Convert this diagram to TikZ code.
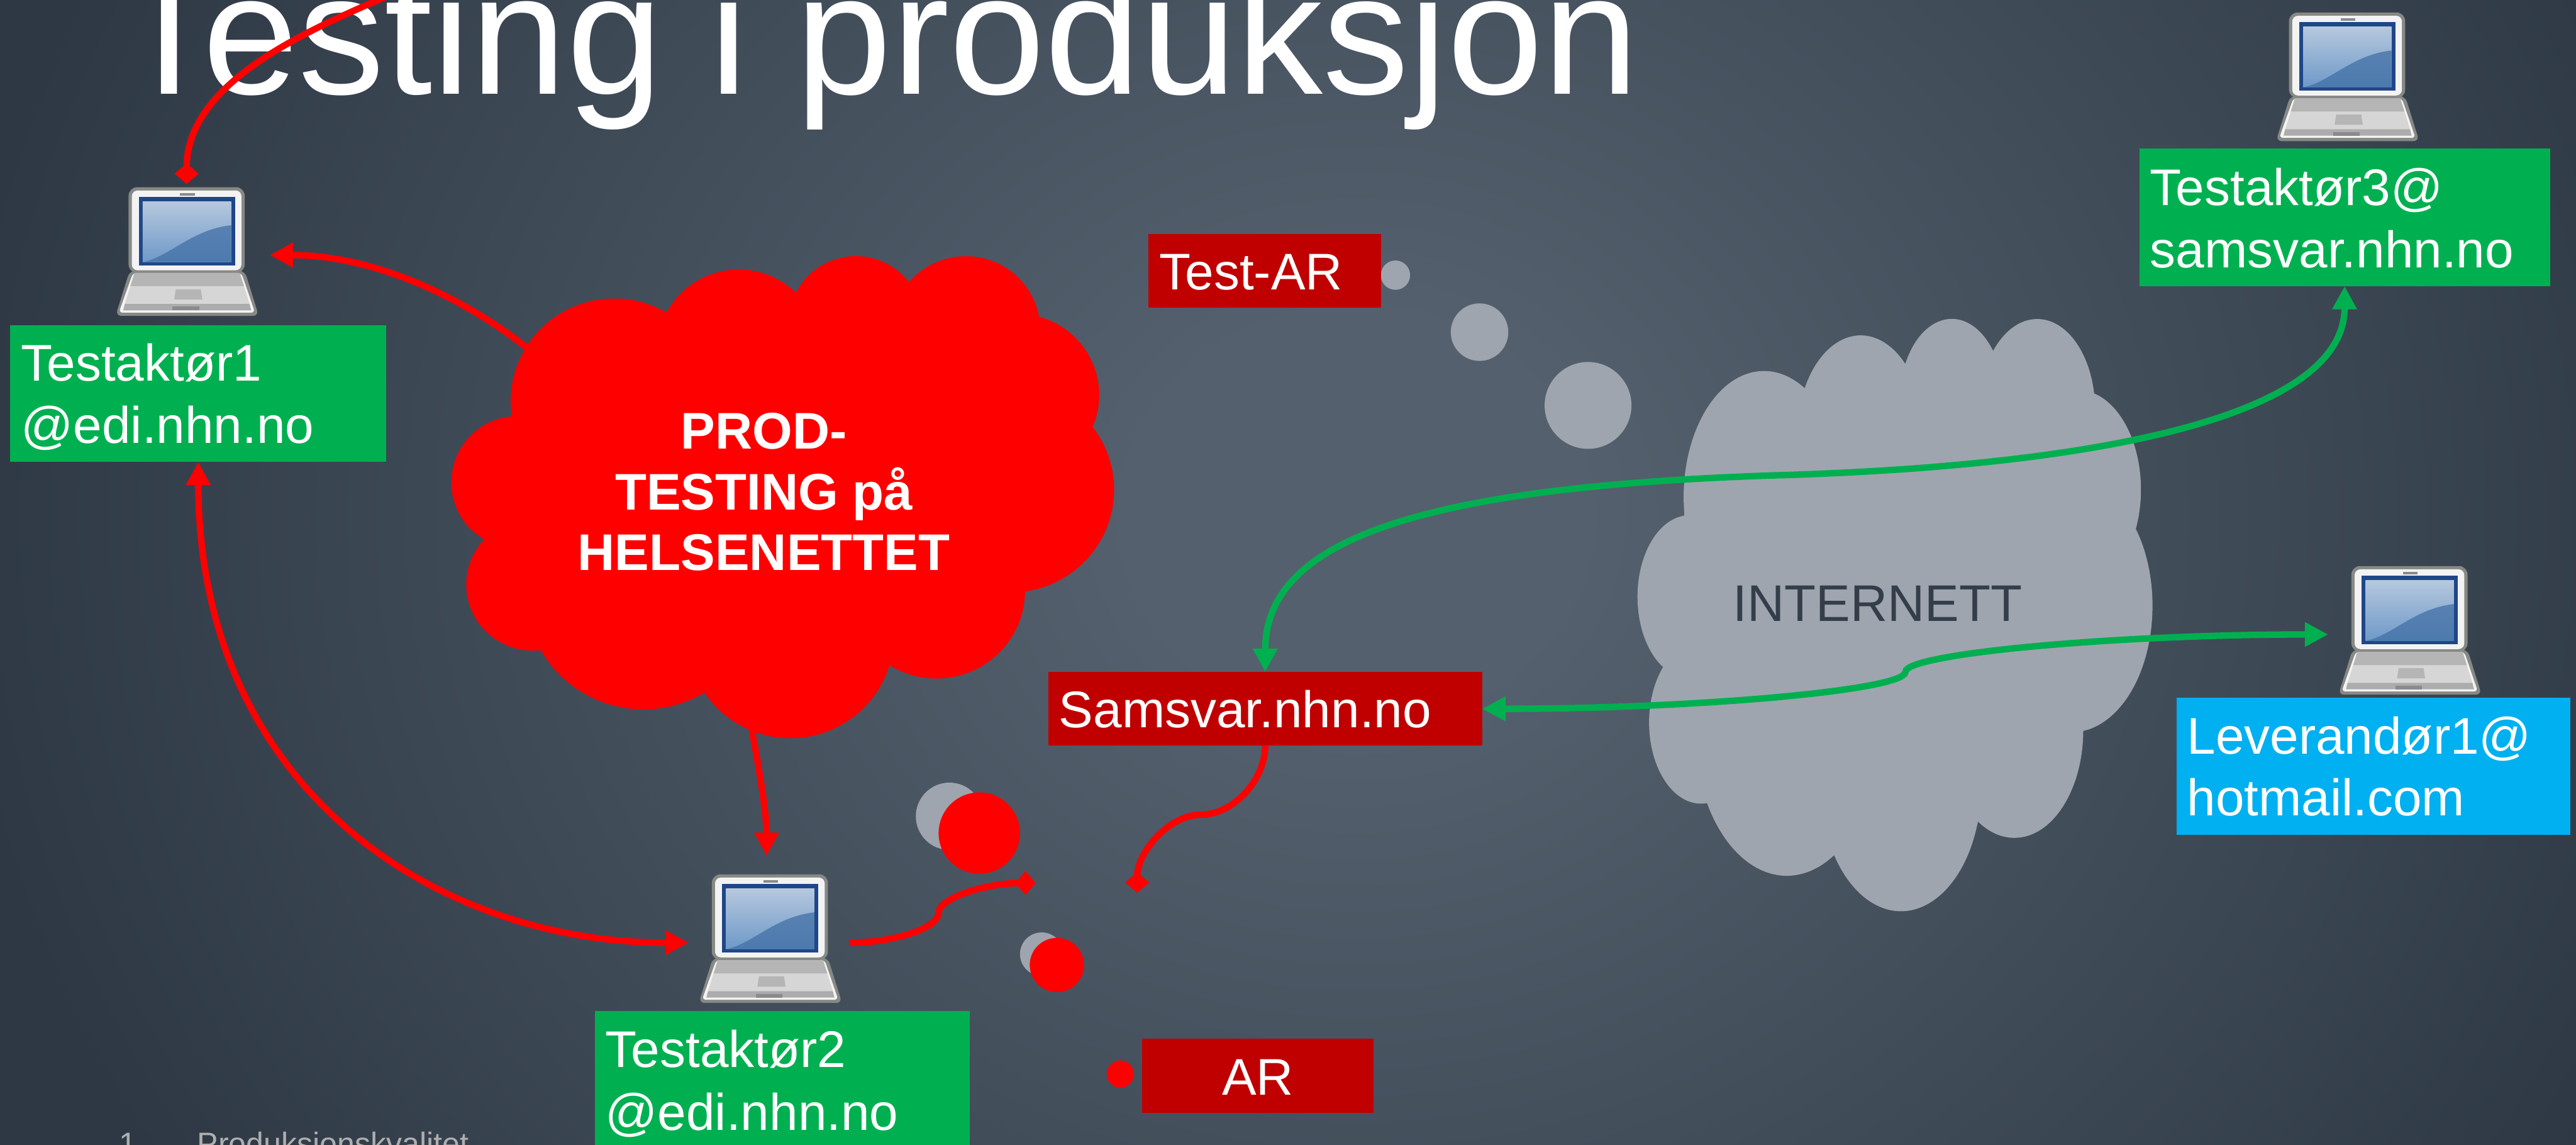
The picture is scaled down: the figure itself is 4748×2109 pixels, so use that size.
\documentclass[tikz,border=0pt]{standalone}
\usepackage{fontspec}
\setmainfont{Liberation Sans}
\usetikzlibrary{arrows.meta,calc,fit}

% slide palette
\definecolor{bgin}{RGB}{84,96,109}
\definecolor{bgout}{RGB}{46,56,69}
\definecolor{pptred}{RGB}{255,0,0}
\definecolor{darkred}{RGB}{192,0,0}
\definecolor{pptgreen}{RGB}{0,176,80}
\definecolor{pptblue}{RGB}{0,176,240}
\definecolor{cloudgrey}{RGB}{158,165,174}
\definecolor{nettext}{RGB}{52,62,75}
\definecolor{footgrey}{RGB}{175,175,175}
% laptop icon palette
\definecolor{lapedge}{RGB}{135,137,133}
\definecolor{lapface}{RGB}{243,243,243}
\definecolor{scrframe}{RGB}{31,71,135}
\definecolor{scrtop}{RGB}{182,200,222}
\definecolor{scrbot}{RGB}{110,153,200}
\definecolor{scrwave}{RGB}{66,112,166}
\definecolor{keyband}{RGB}{181,181,181}
\definecolor{palm}{RGB}{214,214,214}
\definecolor{strip}{RGB}{172,172,172}
\definecolor{stripbar}{RGB}{138,138,138}

\pgfdeclareradialshading{slidebg}{\pgfpoint{0bp}{0bp}}{color(0bp)=(bgin); color(4bp)=(bgin); color(25bp)=(bgout); color(50bp)=(bgout)}

\newcommand\LblFont{\fontsize{27}{32}\selectfont}
\newcommand\TtlFont{\fontsize{90.3}{100}\selectfont}
\newcommand\FtFont{\fontsize{16.5}{20}\selectfont}

\tikzset{
  % cloud outline on a 432 x 432 grid
  pptcloud/.pic={
    \path[pic actions] (39,143.7)
      arc[start angle=-187.745, delta angle=128.104, x radius=67.53, y radius=91.90]
      arc[start angle=-152.018, delta angle=106.561, x radius=53.33, y radius=72.67]
      arc[start angle=-153.493, delta angle=116.162, x radius=43.65, y radius=59.45]
      arc[start angle=-139.711, delta angle=129.500, x radius=48.57, y radius=65.95]
      arc[start angle=-74.768, delta angle=97.975, x radius=53.33, y radius=72.73]
      arc[start angle=-37.527, delta angle=119.390, x radius=67.75, y radius=92.20]
      arc[start angle=0.460, delta angle=121.518, x radius=57.85, y radius=78.67]
      arc[start angle=16.843, delta angle=129.384, x radius=67.52, y radius=92.15]
      arc[start angle=58.985, delta angle=91.220, x radius=77.20, y radius=105.43]
      arc[start angle=-276.694, delta angle=139.800, x radius=43.60, y radius=59.18]
      arc[start angle=-239.643, delta angle=143.755, x radius=43.45, y radius=59.45]
      -- cycle;
  },
  % laptop icon, 264 x 240, origin at its top left corner
  laptop/.pic={
    \fill[lapedge, rounded corners=4.5pt] (24,2) rectangle (238,160);
    \fill[lapface, rounded corners=3pt] (30,8) rectangle (232,155);
    \fill[scrframe] (43,20) rectangle (220,146);
    \shade[top color=scrtop, bottom color=scrbot] (50,28) rectangle (213,140);
    \fill[scrwave, opacity=0.75] (50,140) .. controls (100,130) and (140,80) .. (213,72) -- (213,140) -- cycle;
    \fill[stripbar] (119,13) rectangle (146,17);
    \fill[lapedge, rounded corners=3pt] (26,156) -- (238,156) -- (264,239) -- (0,239) -- cycle;
    \fill[lapface, rounded corners=2pt] (32,160) -- (232,160) -- (257,233) -- (6,233) -- cycle;
    \fill[keyband] (35,160) -- (229,160) -- (237,185) -- (27,185) -- cycle;
    \fill[palm] (27,185) -- (237,185) -- (247,217) -- (17,217) -- cycle;
    \fill[keyband] (111,190) -- (157,190) -- (160,209) -- (108,209) -- cycle;
    \fill[strip] (17,217) -- (247,217) -- (250,229) -- (14,229) -- cycle;
    \fill[stripbar] (105,222) rectangle (154,229);
  },
  block/.style={inner sep=0pt, outer sep=0pt, draw=none},
  lapbox/.style={inner sep=0pt, outer sep=0pt, draw=none},
  lbl/.style={text=white, font=\LblFont, inner sep=0pt, outer sep=0pt, anchor=base west},
  cloudlbl/.style={text=white, font=\LblFont\bfseries, inner sep=0pt, anchor=base},
  redline/.style={draw=pptred, line width=3.4pt, >={Triangle[length=12.2pt,width=12.2pt]}},
  greenline/.style={draw=pptgreen, line width=3.4pt, >={Triangle[length=12.2pt,width=12.2pt]}},
  dia/.style={-{Diamond[length=10.8pt,width=12.5pt]}},
}

\begin{document}
\begin{tikzpicture}[x=0.01cm, y=-0.01cm]
\useasboundingbox (0,0) rectangle (4748,2109);
\clip (0,0) rectangle (4748,2109);

% background
\shade[shading=slidebg] (-100,-1350) rectangle (5100,3250);

% title and footer
\node[text=white, font=\TtlFont, inner sep=0pt, anchor=base west] (title) at (214,173) {Testing i produksjon};
\node[text=footgrey, font=\FtFont, inner sep=0pt, anchor=base west] (ftnum) at (219,2128) {1};
\node[text=footgrey, font=\FtFont, inner sep=0pt, anchor=base west] (fttxt) at (363,2128) {Produksjonskvalitet};

% internet cloud with its bubble tail
\pic[fill=cloudgrey, xscale=948/432, yscale=1091/432] at (3019,584) {pptcloud};
\node[text=nettext, font=\LblFont, inner sep=0pt, anchor=base] (net) at (3461,1145) {INTERNETT};
\fill[cloudgrey] (2572,507) circle[radius=27];
\fill[cloudgrey] (2727,612) circle[radius=53];
\fill[cloudgrey] (2927,747) circle[radius=80];

% production test cloud
\pic[fill=pptred, xscale=1220/432, yscale=888/432] at (833,469) {pptcloud};
\node[cloudlbl] (rc1) at (1408,827) {PROD-};
\node[cloudlbl] (rc2) at (1408,939) {TESTING på};
\node[cloudlbl] (rc3) at (1408,1051) {HELSENETTET};

% bubble tails near AR
\fill[cloudgrey] (1750,1504) circle[radius=62];
\fill[cloudgrey] (1920,1758) circle[radius=40];
\fill[pptred] (1805,1535) circle[radius=75];
\fill[pptred] (1948,1778) circle[radius=50];
\fill[pptred] (2065,1979) circle[radius=25];

% labelled boxes
\node[block, fill=pptgreen, fit={(19,599) (712,851)}] (T1) {};
\node[lbl] (t1a) at (39,702) {Testaktør1};
\node[lbl] (t1b) at (39,817) {@edi.nhn.no};

\node[block, fill=pptgreen, fit={(1096,1863) (1788,2115)}] (T2) {};
\node[lbl] (t2a) at (1116,1967) {Testaktør2};
\node[lbl] (t2b) at (1116,2082) {@edi.nhn.no};

\node[block, fill=pptgreen, fit={(3943,274) (4700,527)}] (T3) {};
\node[lbl] (t3a) at (3963,378) {Testaktør3@};
\node[lbl] (t3b) at (3963,493) {samsvar.nhn.no};

\node[block, fill=pptblue, fit={(4012,1286) (4738,1538)}] (LV) {};
\node[lbl] (lva) at (4031,1389) {Leverandør1@};
\node[lbl] (lvb) at (4031,1503) {hotmail.com};

\node[block, fill=darkred, fit={(2117,431) (2546,567)}] (TAR) {};
\node[lbl] (tart) at (2137,534) {Test-AR};

\node[block, fill=darkred, fit={(1932,1238) (2732,1374)}] (SV) {};
\node[lbl] (svt) at (1952,1341) {Samsvar.nhn.no};

\node[block, fill=darkred, fit={(2105,1914) (2532,2050)}] (AR) {};
\node[lbl, anchor=base] (art) at (2318.5,2017) {AR};

% laptops
\pic at (213,343) {laptop};
\node[lapbox, fit={(213,343) (477,583)}] (L1) {};
\pic at (1288,1609) {laptop};
\node[lapbox, fit={(1288,1609) (1552,1849)}] (L2) {};
\pic at (4195,21) {laptop};
\node[lapbox, fit={(4195,21) (4459,261)}] (L3) {};
\pic at (4310,1041) {laptop};
\node[lapbox, fit={(4310,1041) (4574,1281)}] (L4) {};

% free connector ends
\coordinate (ttl) at (720,-10);
\coordinate (rcw) at (1000,665);
\coordinate (rcs) at (1383,1330);
\coordinate (dotA) at (1909,1627);
\coordinate (dotB) at (2096,1645);

% red connectors
\draw[redline, dia] (ttl) .. controls (570,55) and (344,150) .. ($(L1.north)+(-1,-4)$);
\draw[redline, ->] (rcw) .. controls (880,560) and (700,470) .. ($(L1.east)+(20,7)$);
\draw[redline, <->] (T1.south) .. controls (366,1450) and (800,1737) .. ($(L2.west)+(-19,8)$);
\draw[redline, ->] (rcs) .. controls (1400,1420) and (1413,1500) .. ($(L2.north)+(-7,-32)$);
\draw[redline, dia] ($(L2.east)+(13,8)$) .. controls (1647,1737) and (1730,1710) .. (1730,1682)
      .. controls (1730,1654) and (1820,1627) .. (dotA);
\draw[redline, dia] (SV.south) .. controls (2332,1437) and (2273,1501) .. (2214,1501)
      .. controls (2155,1501) and (2096,1570) .. (dotB);

% green connectors
\draw[greenline, <->] (SV.north) .. controls (2332,1000) and (2600,895) .. (3300,875)
      .. controls (3900,855) and (4321,760) .. (T3.south);
\draw[greenline, <->] (SV.east) .. controls (3122,1306) and (3512,1272) .. (3512,1238)
      .. controls (3512,1204) and (3902,1169) .. ($(L4.west)+(-19,8)$);
\end{tikzpicture}
\end{document}
